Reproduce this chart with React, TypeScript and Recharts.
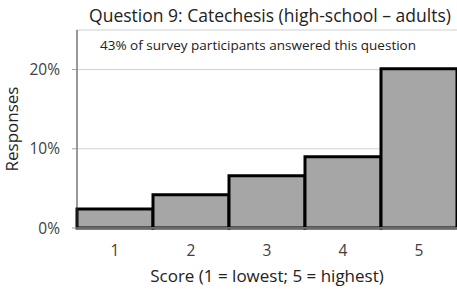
import { Bar, BarChart, CartesianGrid, XAxis, YAxis } from "recharts";

const scores = ["1", "2", "3", "4", "5"];
const responses = [2.4, 4.2, 6.6, 9.0, 20.1];
const yTicks = [0, 10, 20];

const data = scores.map((s, i) => ({ score: s, value: responses[i] }));

const FONT = "'Open Sans', sans-serif";
const TICK = { fill: "#404040", fontSize: 15.5, fontFamily: FONT };

export default function App() {
  return (
    <div style={{ position: "absolute", left: 0, top: 0, width: 457, height: 289, background: "#fff" }}>
      <BarChart
        width={457}
        height={289}
        data={data}
        margin={{ top: 30, right: 0, bottom: 0, left: 0 }}
        barCategoryGap={0}
        style={{ position: "absolute", left: 0, top: 0 }}
      >
        <CartesianGrid horizontal vertical={false} stroke="#d0d0d0" />
        <XAxis
          dataKey="score"
          height={61}
          tick={TICK}
          tickLine={false}
          tickSize={0}
          tickMargin={17}
          axisLine={{ stroke: "#8c8c8c", strokeWidth: 1.5 }}
          label={{
            value: "Score (1 = lowest; 5 = highest)",
            position: "insideBottom",
            offset: 7,
            fill: "#222",
            fontSize: 17,
            fontFamily: FONT,
          }}
        />
        <XAxis xAxisId="top" orientation="top" dataKey="score" height={0} tick={false} tickLine={false} axisLine={{ stroke: "#333" }} />
        <YAxis
          width={77}
          domain={[0, 25]}
          ticks={yTicks}
          interval={0}
          tickFormatter={(v) => `${v}%`}
          tick={TICK}
          tickSize={5}
          tickMargin={12}
          tickLine={{ stroke: "#a0a0a0" }}
          axisLine={{ stroke: "#333" }}
          label={{
            value: "Responses",
            angle: -90,
            position: "insideLeft",
            offset: 12,
            style: { textAnchor: "middle" },
            fill: "#222",
            fontSize: 17,
            fontFamily: FONT,
          }}
        />
        <Bar dataKey="value" fill="#a6a6a6" stroke="#000" strokeWidth={3} isAnimationActive={false} />
      </BarChart>
      <div
        style={{
          position: "absolute",
          left: 0,
          width: 540,
          top: 3,
          textAlign: "center",
          fontFamily: FONT,
          fontSize: 17.5,
          lineHeight: "24px",
          color: "#222",
          whiteSpace: "nowrap",
        }}
      >
        Question 9: Catechesis (high-school – adults)
      </div>
      <div
        style={{
          position: "absolute",
          left: 0,
          width: 516,
          top: 36,
          textAlign: "center",
          fontFamily: FONT,
          fontSize: 13.5,
          lineHeight: "18px",
          color: "#222",
          whiteSpace: "nowrap",
        }}
      >
        43% of survey participants answered this question
      </div>
    </div>
  );
}
